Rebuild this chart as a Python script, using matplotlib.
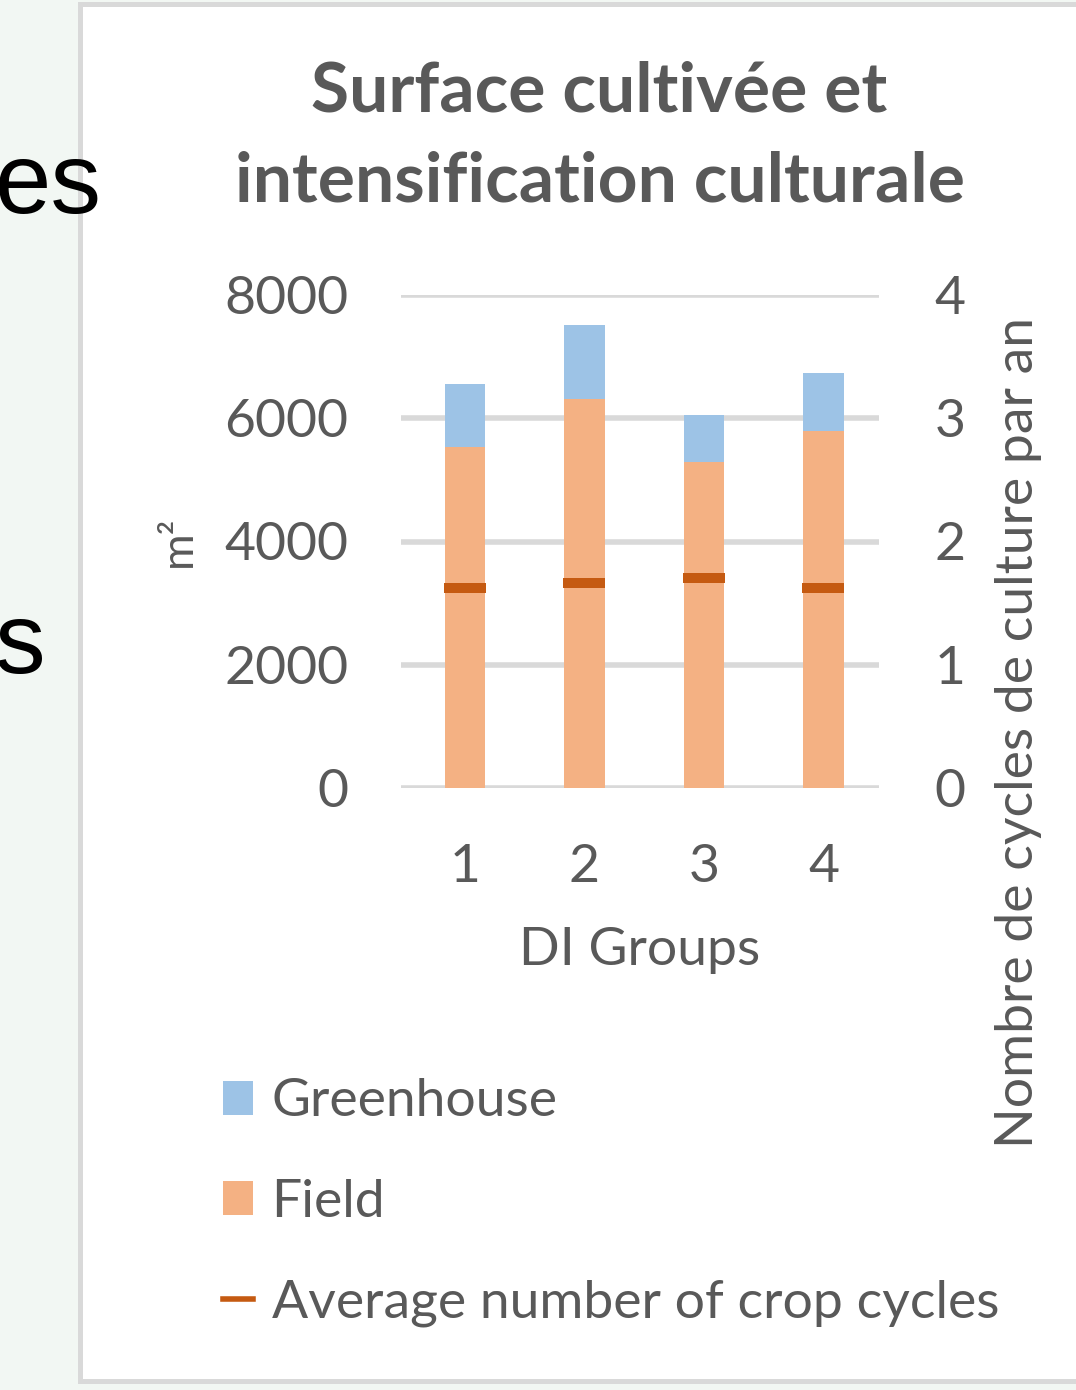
#!/usr/bin/env python3
"""Surface cultivée et intensification culturale, stacked bars with crop cycle markers."""

from __future__ import annotations

import matplotlib

matplotlib.use("Agg")

import matplotlib.pyplot as plt
from matplotlib.lines import Line2D
from matplotlib.patches import Patch, Rectangle


GROUPS = ["1", "2", "3", "4"]
FIELD_M2 = [5540, 6310, 5290, 5795]
GREENHOUSE_M2 = [1015, 1210, 755, 940]
CROP_CYCLES = [1.62, 1.66, 1.70, 1.62]

LEFT_TICKS = [0, 2000, 4000, 6000, 8000]
RIGHT_TICKS = [0, 1, 2, 3, 4]

FIELD_COLOR = "#F4B183"
GREENHOUSE_COLOR = "#9DC3E6"
CYCLE_COLOR = "#C55A11"
GRID_COLOR = "#D9D9D9"
TEXT_COLOR = "#595959"
FONT = "Lato"
LABEL_SIZE = 38.5

W, H = 1076, 1390


def fx(px: float) -> float:
    return px / W


def fy(py: float) -> float:
    return 1 - py / H


def main() -> None:
    plt.rcParams["font.family"] = [FONT, "DejaVu Sans"]
    fig = plt.figure(figsize=(W / 100, H / 100), dpi=100, facecolor="#F2F7F3")

    # white chart area with its grey frame
    fig.patches.append(Rectangle((fx(80), fy(1381)), fx(1100) - fx(80), fy(4) - fy(1381),
                                 transform=fig.transFigure, facecolor="white",
                                 edgecolor=GRID_COLOR, linewidth=3.6, zorder=-5))

    ax = fig.add_axes([fx(401), fy(788), fx(879) - fx(401), fy(295) - fy(788)])
    ax.set_zorder(1)
    ax.set_facecolor("none")
    x = list(range(1, len(GROUPS) + 1))
    ax.bar(x, FIELD_M2, width=0.34, color=FIELD_COLOR, zorder=2)
    ax.bar(x, GREENHOUSE_M2, width=0.34, bottom=FIELD_M2, color=GREENHOUSE_COLOR, zorder=2)

    ax.set_xlim(0.465, 4.465)
    ax.set_ylim(0, 8000)
    ax.set_yticks(LEFT_TICKS)
    ax.set_xticks(x)
    ax.set_xticklabels(GROUPS)
    for spine in ax.spines.values():
        spine.set_visible(False)
    ax.grid(axis="y", color=GRID_COLOR, linewidth=4, zorder=0)
    ax.set_axisbelow(True)
    ax.tick_params(axis="both", length=0, labelsize=LABEL_SIZE, labelcolor=TEXT_COLOR)
    ax.tick_params(axis="y", pad=38)
    ax.tick_params(axis="x", pad=40)
    ax.set_xlabel("DI Groups", fontsize=LABEL_SIZE, color=TEXT_COLOR, labelpad=26)
    ax.set_ylabel("m²", fontsize=32, color=TEXT_COLOR, labelpad=18)

    ax2 = ax.twinx()
    ax2.plot(x, CROP_CYCLES, linestyle="none", marker="_", markersize=30,
             markeredgewidth=7.2, color=CYCLE_COLOR, zorder=3)
    ax2.set_ylim(0, 4)
    ax2.set_yticks(RIGHT_TICKS)
    for spine in ax2.spines.values():
        spine.set_visible(False)
    ax2.tick_params(axis="y", length=0, labelsize=LABEL_SIZE, labelcolor=TEXT_COLOR, pad=40)

    fig.text(fx(1018), fy(733), "Nombre de cycles de culture par an", rotation=90,
             ha="center", va="center", fontsize=LABEL_SIZE, color=TEXT_COLOR)

    fig.text(fx(599), fy(112), "Surface cultivée et", ha="center", va="baseline",
             fontsize=50, fontweight="bold", color=TEXT_COLOR)
    fig.text(fx(600), fy(202), "intensification culturale", ha="center", va="baseline",
             fontsize=50, fontweight="bold", color=TEXT_COLOR)

    handles = [
        Patch(facecolor=GREENHOUSE_COLOR, label="Greenhouse"),
        Patch(facecolor=FIELD_COLOR, label="Field"),
        Line2D([], [], color=CYCLE_COLOR, linewidth=4, label="Average number of crop cycles"),
    ]
    fig.legend(handles=handles, loc="upper left", bbox_to_anchor=(fx(202), fy(1057)),
               frameon=False, fontsize=LABEL_SIZE, labelcolor=TEXT_COLOR, handlelength=0.56,
               handleheight=0.6, handletextpad=0.34, labelspacing=1.0, borderaxespad=0)

    # fragments of neighbouring page text
    fig.text(fx(102), fy(213), "es", ha="right", va="baseline", fontsize=73,
             family="Liberation Sans", color="black", zorder=5)
    fig.text(fx(45), fy(673), "s", ha="right", va="baseline", fontsize=73,
             family="Liberation Sans", color="black", zorder=5)

    fig.savefig("out.png", dpi=100, facecolor=fig.get_facecolor())


if __name__ == "__main__":
    main()
